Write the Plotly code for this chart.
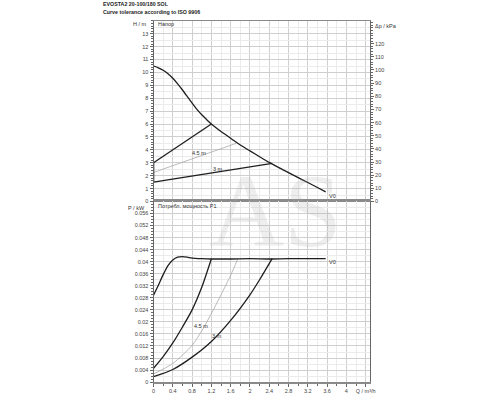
import plotly.graph_objects as go

# ---------------- data ----------------
title_lines = ["EVOSTA2 20-100/180 SOL", "Curve tolerance according to ISO 9906"]

# Head (H, m) vs flow (Q, m3/h)
q_head_max = [0, 0.1, 0.2, 0.3, 0.4, 0.5, 0.6, 0.7, 0.8, 0.9, 1.0, 1.1, 1.2, 1.4, 1.6, 1.8, 2.0, 2.2, 2.4, 2.6, 2.8, 3.0, 3.2, 3.4, 3.57]
h_head_max = [10.5, 10.36, 10.17, 9.9, 9.55, 9.12, 8.64, 8.13, 7.62, 7.14, 6.72, 6.35, 6.0, 5.42, 4.9, 4.38, 3.92, 3.47, 3.03, 2.62, 2.24, 1.85, 1.47, 1.08, 0.74]

q_line_a = [0, 1.2]
h_line_a = [3.0, 6.0]
q_line_45 = [0, 1.71]
h_line_45 = [2.25, 4.5]
q_line_3 = [0, 2.46]
h_line_3 = [1.5, 2.95]
q_line_zero = [0, 0]
h_line_zero = [1.5, 3.0]

# Power (P1, kW) vs flow
q_pow_max = [0, 0.1, 0.2, 0.3, 0.4, 0.5, 0.6, 0.7, 0.8, 1.0, 1.2, 1.6, 2.0, 2.4, 2.8, 3.2, 3.57]
p_pow_max = [0.0289, 0.0322, 0.0357, 0.0387, 0.0406, 0.0415, 0.0417, 0.0415, 0.0412, 0.041, 0.0409, 0.0409, 0.041, 0.0409, 0.041, 0.041, 0.041]
q_pow_a = [0, 0.2, 0.4, 0.6, 0.8, 1.0, 1.2]
p_pow_a = [0.0046, 0.0085, 0.013, 0.0183, 0.024, 0.0315, 0.041]
q_pow_45 = [0, 0.4, 0.8, 1.0, 1.2, 1.4, 1.6, 1.75]
p_pow_45 = [0.0027, 0.0062, 0.0122, 0.017, 0.0228, 0.029, 0.0355, 0.041]
q_pow_3 = [0, 0.4, 0.8, 1.2, 1.6, 2.0, 2.2, 2.46]
p_pow_3 = [0.0018, 0.0042, 0.0083, 0.0135, 0.0205, 0.029, 0.034, 0.041]

# ticks
q_ticks = [round(0.4 * i, 1) for i in range(12)]
q_ticktext = [f"{v:g}" for v in q_ticks[:-1]] + ["Q / m³/h"]
h_ticks = list(range(0, 14))
kpa_ticks = list(range(0, 130, 10))
p_ticks = [round(0.004 * i, 3) for i in range(15)]   # 0 ... 0.056
p_ticktext = [f"{v:g}" for v in p_ticks]

# ---------------- figure ----------------
DARK = "#1e1e1e"
GRAY = "#a8a8a8"
AXC = "#666666"
GRID = "#cfcfcf"
GRID_MIN = "#ebebeb"
TF = dict(size=5.5, color="#444444", family="Liberation Sans, Arial, sans-serif")

fig = go.Figure()

def add(x, y, color, width, xa, ya, shape="spline", opacity=1.0):
    fig.add_trace(go.Scatter(x=x, y=y, mode="lines", xaxis=xa, yaxis=ya,
                             line=dict(color=color, width=width, shape=shape, smoothing=0.7),
                             opacity=opacity, hoverinfo="skip", showlegend=False))

# head chart
add(q_line_45, h_line_45, GRAY, 0.8, "x", "y", "linear")
add(q_line_a, h_line_a, DARK, 1.3, "x", "y", "linear")
add(q_line_3, h_line_3, DARK, 1.3, "x", "y", "linear")
add(q_line_zero, h_line_zero, DARK, 1.5, "x", "y", "linear")
add(q_head_max, h_head_max, DARK, 1.3, "x", "y")
# same head curve expressed in kPa / on helper axes (invisible, keeps those axes drawn)
add(q_head_max, [h * 9.81 for h in h_head_max], DARK, 1, "x", "y3", opacity=0)
add(q_head_max, h_head_max, DARK, 1, "x", "y4", opacity=0)
# power chart
add(q_pow_45, p_pow_45, GRAY, 0.8, "x2", "y2")
add(q_pow_a, p_pow_a, DARK, 1.3, "x2", "y2")
add(q_pow_3, p_pow_3, DARK, 1.3, "x2", "y2")
add(q_pow_max, p_pow_max, DARK, 1.3, "x2", "y2")
add(q_pow_max, p_pow_max, DARK, 1, "x2", "y5", opacity=0)

XDOM = [0.308, 0.748]
TOPDOM = [0.4925, 0.9475]
BOTDOM = [0.0375, 0.4925]
QR = [0, 4.49]
HR = [0, 14]
PR = [0, 0.06]

common_x = dict(domain=XDOM, range=QR, tickmode="array", tickvals=q_ticks,
                showgrid=True, gridcolor=GRID, gridwidth=0.8, zeroline=False,
                showline=True, mirror=True, fixedrange=True)

fig.update_layout(
    width=500, height=400,
    margin=dict(l=0, r=0, t=0, b=0),
    paper_bgcolor="white", plot_bgcolor="white",
    font=TF,
    xaxis=dict(**common_x, anchor="y", showticklabels=False, ticks="",
               linecolor="#8a8a8a", linewidth=1,
               minor=dict(tickmode="linear", tick0=0, dtick=0.2, showgrid=True,
                          gridcolor=GRID_MIN, ticks="")),
    xaxis2=dict(**common_x, anchor="y2", ticktext=q_ticktext, showticklabels=True,
                ticks="outside", ticklen=3, tickcolor=AXC, tickfont=TF,
                linecolor="#8a8a8a", linewidth=1.5,
                minor=dict(tickmode="linear", tick0=0, dtick=0.2, showgrid=True,
                           gridcolor=GRID_MIN, ticks="outside", ticklen=2, tickcolor=AXC)),
    yaxis=dict(domain=TOPDOM, range=HR, anchor="x", tickmode="array",
               tickvals=h_ticks, ticks="outside", ticklen=3, tickcolor=AXC,
               tickfont=TF, showgrid=True, gridcolor=GRID, gridwidth=0.8,
               zeroline=False, showline=True, linecolor=AXC, linewidth=1,
               minor=dict(tickmode="linear", tick0=0, dtick=0.2, ticks="outside",
                          ticklen=2, tickcolor=AXC, showgrid=False),
               fixedrange=True),
    yaxis3=dict(overlaying="y", anchor="x", side="right", range=[HR[0] * 9.81, HR[1] * 9.81],
                tickmode="array", tickvals=kpa_ticks, ticks="outside", ticklen=3,
                tickcolor=AXC, tickfont=TF, showgrid=False, zeroline=False,
                showline=True, linecolor=AXC, linewidth=1,
                minor=dict(tickmode="linear", tick0=0, dtick=2, ticks="outside",
                           ticklen=2, tickcolor=AXC),
                fixedrange=True),
    yaxis4=dict(overlaying="y", anchor="x", side="left", range=HR,
                tickmode="linear", tick0=0.5, dtick=1, ticks="", showticklabels=False,
                showgrid=True, gridcolor=GRID_MIN, zeroline=False, showline=False,
                fixedrange=True),
    yaxis2=dict(domain=BOTDOM, range=PR, anchor="x2", tickmode="array",
                tickvals=p_ticks, ticktext=p_ticktext, ticks="outside",
                ticklen=3, tickcolor=AXC, tickfont=TF, showgrid=True,
                gridcolor=GRID, gridwidth=0.8, zeroline=False, showline=True,
                mirror=True, linecolor=AXC, linewidth=1,
                minor=dict(tickmode="linear", tick0=0, dtick=0.001, ticks="outside",
                           ticklen=2, tickcolor=AXC, showgrid=False),
                fixedrange=True),
    yaxis5=dict(overlaying="y2", anchor="x2", side="left", range=PR,
                tickmode="linear", tick0=0.002, dtick=0.004, ticks="",
                showticklabels=False, showgrid=True, gridcolor=GRID_MIN,
                zeroline=False, showline=False, fixedrange=True),
)

ann = []
def txt(text, x, y, xref="paper", yref="paper", xanchor="left", size=5.5, color="#333333"):
    ann.append(dict(text=text, x=x, y=y, xref=xref, yref=yref, xanchor=xanchor,
                    yanchor="middle", showarrow=False,
                    font=dict(size=size, color=color, family=TF["family"])))

# titles
txt("<b>" + title_lines[0] + "</b>", 101 / 500, 1 - 4.5 / 400, size=5.3, color="#222222")
txt("<b>" + title_lines[1] + "</b>", 101 / 500, 1 - 12.5 / 400, size=5.3, color="#222222")
# axis captions
txt("H / m", 149 / 500, 1 - 24.5 / 400, xanchor="right")
txt("Напор", 157 / 500, 1 - 24.5 / 400)
txt("Δp / kPa", 377 / 500, 1 - 26 / 400)
txt("P / kW", 147 / 500, 1 - 210 / 400, xanchor="right")
txt("Потребл. мощность P1", 156 / 500, 1 - 207.5 / 400)
# curve labels
txt("4.5 m", 0.75, 3.72, "x", "y")
txt("3 m", 1.2, 2.5, "x", "y")
txt("V0", 3.6, 0.42, "x", "y")
txt("4.5 m", 0.8, 0.0185, "x2", "y2")
txt("3 m", 1.17, 0.0152, "x2", "y2")
txt("V0", 3.6, 0.0398, "x2", "y2")
# watermark
ann.append(dict(text="AS", x=278 / 500, y=1 - 212 / 400, xref="paper", yref="paper",
                showarrow=False, xanchor="center", yanchor="middle",
                font=dict(size=104, color="rgba(170,170,170,0.2)",
                          family="Liberation Serif, DejaVu Serif, serif")))

fig.update_layout(annotations=ann)
fig.write_html("out.html", config={"displayModeBar": False},
               post_script="document.body.style.margin='0';")
